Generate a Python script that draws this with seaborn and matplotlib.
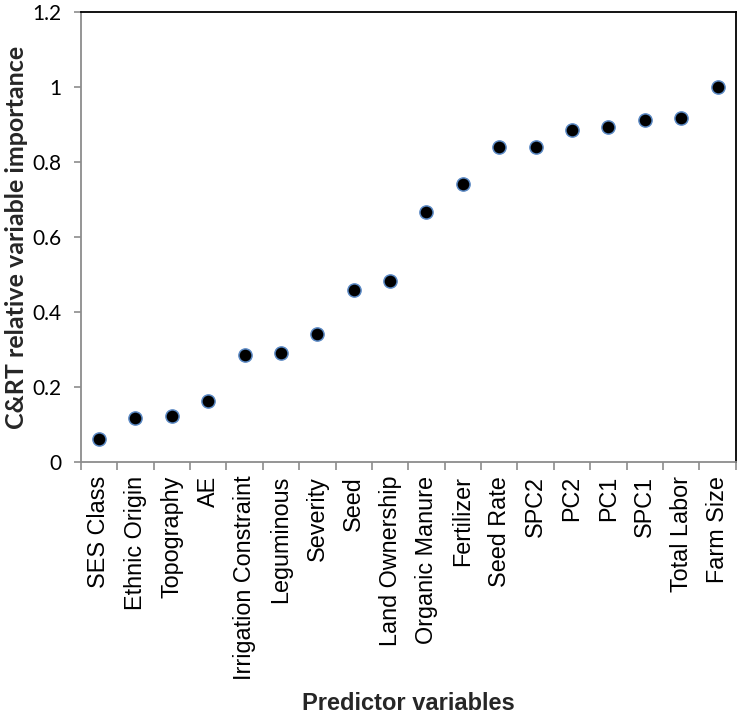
import matplotlib
matplotlib.use("Agg")
import matplotlib.pyplot as plt
import seaborn as sns
import pandas as pd
from matplotlib.ticker import FixedLocator, FuncFormatter

categories = ["SES Class", "Ethnic Origin", "Topography", "AE", "Irrigation Constraint",
              "Leguminous", "Severity", "Seed", "Land Ownership", "Organic Manure",
              "Fertilizer", "Seed Rate", "SPC2", "PC2", "PC1", "SPC1", "Total Labor", "Farm Size"]
importance = [0.061, 0.116, 0.122, 0.162, 0.284, 0.290, 0.341, 0.458, 0.482, 0.666,
              0.741, 0.840, 0.840, 0.886, 0.894, 0.912, 0.917, 1.0]
yticks = [0, 0.2, 0.4, 0.6, 0.8, 1.0, 1.2]

sns.set_theme(style="white")
plt.rcParams['font.family'] = ['Liberation Sans', 'DejaVu Sans']

df = pd.DataFrame({"Predictor": categories, "Importance": importance})

fig = plt.figure(figsize=(7.41, 7.15), dpi=100)
ax = fig.add_axes([0.109, 0.354, 0.884, 0.629])
sns.scatterplot(data=df, x="Predictor", y="Importance", ax=ax, s=90,
                color="black", edgecolor="#5b89c4", linewidth=1.1, zorder=3)

n = len(categories)
ax.set_xlim(-0.5, n - 0.5)
ax.set_ylim(0, 1.2)
ax.set_yticks(yticks)
ax.yaxis.set_major_formatter(FuncFormatter(lambda v, p: f"{v:g}"))
ax.set_xticks(range(n))
ax.set_xticklabels(categories, rotation=90, fontsize=16.8, color="black")
ax.tick_params(axis="x", which="major", length=0, pad=10)
ax.xaxis.set_minor_locator(FixedLocator([i - 0.5 for i in range(n + 1)]))
ax.tick_params(axis="x", which="minor", length=6, width=1.2, color="#8c8c8c", bottom=True)
ax.tick_params(axis="y", which="major", length=5, width=1.2, color="#8c8c8c", left=True,
               labelsize=15, labelcolor="black", pad=9)
for lbl in ax.get_yticklabels():
    lbl.set_family(['Lato', 'Liberation Sans', 'DejaVu Sans'])

for side in ["left", "bottom"]:
    ax.spines[side].set_color("#8c8c8c")
    ax.spines[side].set_linewidth(1.3)
for side in ["top", "right"]:
    ax.spines[side].set_color("black")
    ax.spines[side].set_linewidth(1.3)
    ax.spines[side].set_visible(True)

ax.set_ylabel("C&RT relative variable importance", fontsize=18, fontweight="bold",
              family=['Lato', 'Liberation Sans', 'DejaVu Sans'], labelpad=3)
ax.set_xlabel("Predictor variables", fontsize=17, fontweight="bold", labelpad=8)

fig.savefig("out.png", dpi=100)
